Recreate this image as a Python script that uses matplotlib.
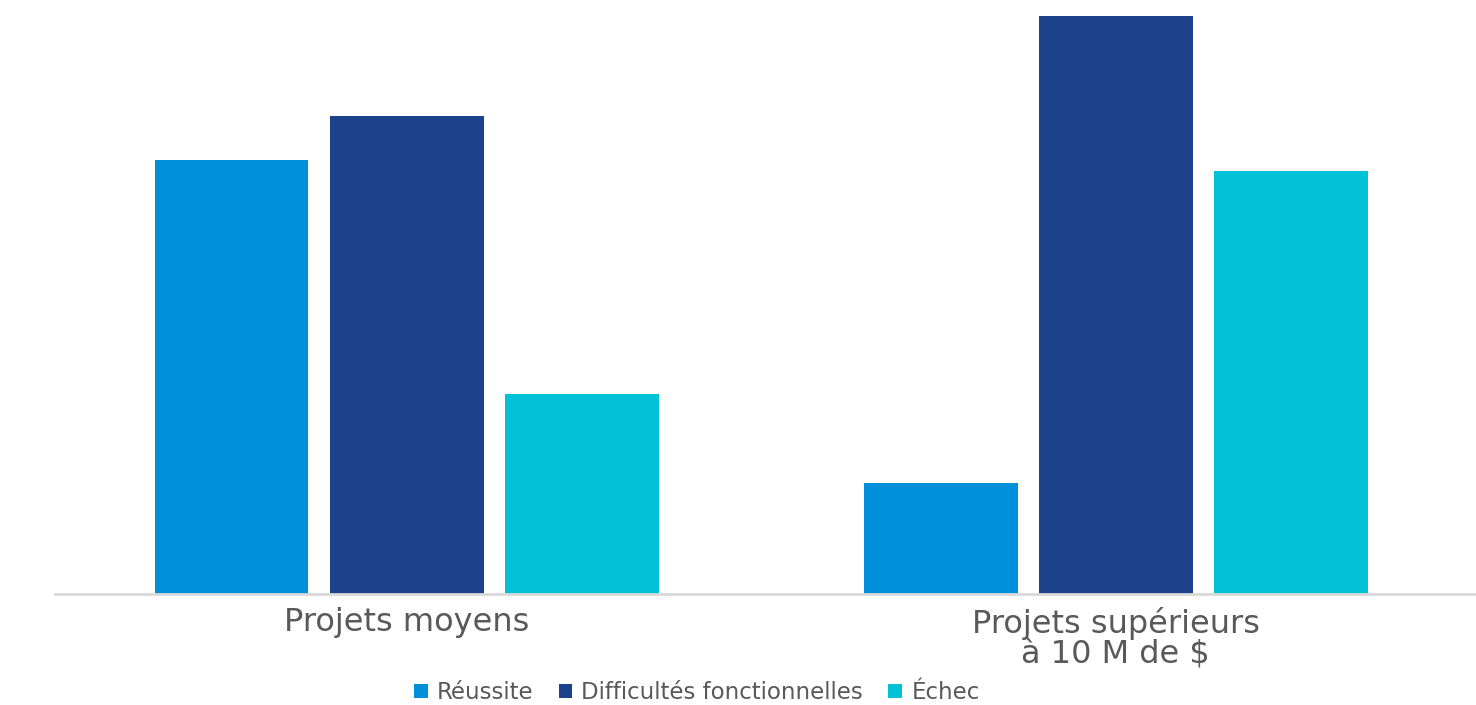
import numpy as np
import matplotlib.pyplot as plt

plt.rcParams['font.family'] = ['DejaVu Sans']

categories = ["Projets moyens", "Projets supérieurs\nà 10 M de $"]
series = ["Réussite", "Difficultés fonctionnelles", "Échec"]
reussite = [39, 10]
difficultes = [43, 52]
echec = [18, 38]
colors = ["#0090DA", "#1B428A", "#00C1D5"]

fig = plt.figure(figsize=(14.76, 7.05), dpi=100)
ax = fig.add_axes([55 / 1476, 111 / 705, 1 - 55 / 1476, 594 / 705])

x = np.arange(len(categories))
width = 0.217
step = 0.247
for i, (vals, name, c) in enumerate(zip([reussite, difficultes, echec], series, colors)):
    ax.bar(x + (i - 1) * step, vals, width, color=c, label=name)

ax.set_xlim(-0.496, 1.508)
ax.set_ylim(0, 53.4)
ax.set_xticks(x)
ax.set_xticklabels(categories, fontsize=23, color="#595959", linespacing=0.95)
ax.tick_params(axis="x", length=0, pad=9)
ax.set_yticks([])
for s in ["top", "right", "left"]:
    ax.spines[s].set_visible(False)
ax.spines["bottom"].set_color("#D9D9D9")
ax.spines["bottom"].set_linewidth(2)

leg = fig.legend(loc="lower center", bbox_to_anchor=(0.472, -0.028), ncol=3, frameon=False,
                 fontsize=16.5, handlelength=0.6, handleheight=0.6, handletextpad=0.4,
                 columnspacing=1.1, labelcolor="#595959")

fig.savefig("out.png", dpi=100)
